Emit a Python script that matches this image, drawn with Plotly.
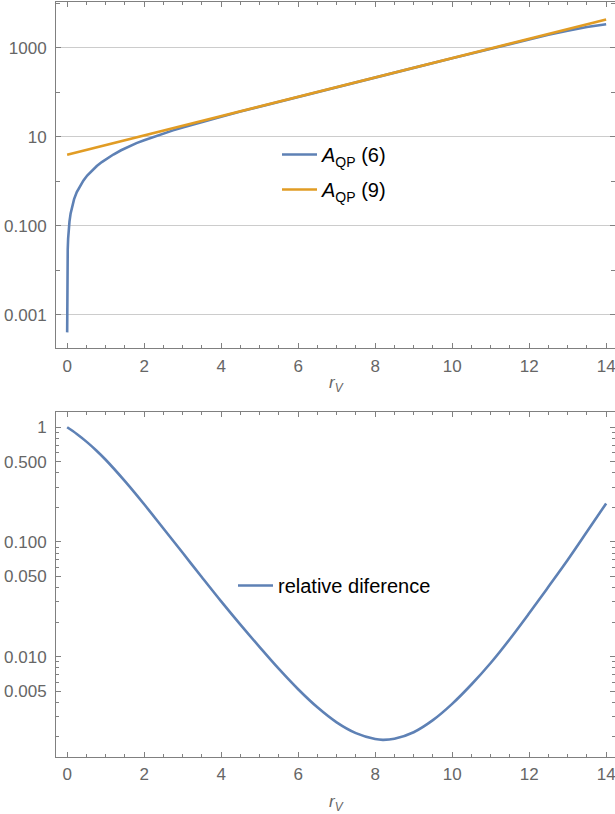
import plotly.graph_objects as go

# ---------------- data ----------------
# top panel: A_QP (6)
x_a6 = [0.0002, 0.0005, 0.001, 0.002, 0.004, 0.008, 0.015, 0.025, 0.04, 0.06, 0.09,
        0.13, 0.18, 0.25, 0.33, 0.42, 0.52, 0.64, 0.77, 0.9, 1.05, 1.2, 1.4, 1.6,
        1.8, 2.0, 2.25, 2.5, 2.75, 3.0, 3.5, 4.0, 4.5, 5.0, 5.5, 6.0, 7.0, 8.0,
        9.0, 10.0, 10.5, 11.0, 11.5, 12.0, 12.5, 13.0, 13.5, 14.0]
y_a6 = [0.0004, 0.001, 0.002, 0.004, 0.008, 0.016, 0.030, 0.051, 0.082, 0.124, 0.189,
        0.279, 0.396, 0.569, 0.780, 1.03, 1.34, 1.73, 2.19, 2.69, 3.31, 3.98, 4.96, 6.02,
        7.2, 8.35, 10.0, 11.9, 13.9, 16.2, 21.6, 28.2, 36.7, 47.4, 61.1, 78.7, 129.7, 214.6,
        353, 581, 745, 954, 1217, 1547, 1951, 2430, 2943, 3371]

# top panel: A_QP (9)
x_a9 = [0, 1, 2, 3, 4, 5, 6, 7, 8, 9, 10, 11, 12, 13, 14]
y_a9 = [3.94, 6.50, 10.7, 17.7, 29.1, 48.0, 79.1, 130, 215, 354, 583, 962, 1585, 2612, 4305]

# bottom panel: relative difference
x_rel = [0, 0.25, 0.5, 0.75, 1.0, 1.5, 2.0, 2.5, 3.0, 3.5, 4.0, 4.5, 5.0, 5.5, 6.0,
         6.5, 7.0, 7.5, 8.0, 8.2, 8.5, 9.0, 9.5, 10.0, 10.5, 11.0, 11.5, 12.0, 12.5,
         13.0, 13.5, 14.0]
y_rel = [1.0, 0.875, 0.750, 0.631, 0.521, 0.339, 0.213, 0.131, 0.0804, 0.0492, 0.0303,
         0.0190, 0.0121, 0.00780, 0.00519, 0.00361, 0.00267, 0.00215, 0.00191, 0.00188,
         0.00192, 0.00219, 0.00279, 0.00387, 0.00571, 0.0088, 0.01426, 0.02388, 0.0406,
         0.0695, 0.1225, 0.2168]

# tick labels
x_ticks = [0, 2, 4, 6, 8, 10, 12, 14]
x_grid = [2, 4, 6, 8, 10, 12, 14]
top_yticks = [0.001, 0.1, 10, 1000]
top_yticktext = ["0.001", "0.100", "10", "1000"]
top_yminor = [0.01, 1, 100, 10000]
bot_yticks = [0.005, 0.01, 0.05, 0.1, 0.5, 1]
bot_yticktext = ["0.005", "0.010", "0.050", "0.100", "0.500", "1"]
bot_yminor = [0.002, 0.003, 0.004, 0.006, 0.007, 0.008, 0.009,
              0.02, 0.03, 0.04, 0.06, 0.07, 0.08, 0.09,
              0.2, 0.3, 0.4, 0.6, 0.7, 0.8, 0.9]
x_title = "<i>r</i><sub><i>V</i></sub>"

# ---------------- styling ----------------
W, H = 615, 814
BLUE = "#5E81B5"
ORANGE = "#E19C24"
FRAME = "#808080"
GRID = "#cccccc"
FAM = "Liberation Sans, Arial, sans-serif"
TICKFONT = dict(family=FAM, size=17, color="#666666")
LEGFONT = dict(family=FAM, size=20, color="#000000")

xdom = [56 / W, 1.0]
top_dom = [1 - 348.3 / H, 1 - 1.5 / H]
bot_dom = [1 - 756.7 / H, 1 - 411.7 / H]
xrange = [-0.29, 14.23]

fig = go.Figure()

fig.add_trace(go.Scatter(x=x_a6, y=y_a6, mode="lines", name="<i>A</i><sub>QP</sub> (6)",
                         line=dict(color=BLUE, width=2.6), xaxis="x", yaxis="y",
                         legend="legend", legendgroup="a6"))
fig.add_trace(go.Scatter(x=x_a9, y=y_a9, mode="lines", name="<i>A</i><sub>QP</sub> (9)",
                         line=dict(color=ORANGE, width=2.6), xaxis="x", yaxis="y",
                         legend="legend", legendgroup="a9"))
fig.add_trace(go.Scatter(x=x_rel, y=y_rel, mode="lines", name="relative diference",
                         line=dict(color=BLUE, width=2.6, shape="spline", smoothing=1.0),
                         xaxis="x2", yaxis="y2", legend="legend2"))

common_x = dict(
    range=xrange, tickmode="array", tickvals=x_ticks, ticks="inside", ticklen=5,
    tickcolor=FRAME, tickwidth=1, showline=True, linecolor=FRAME, linewidth=1,
    mirror="ticks", showgrid=False, zeroline=False, tickfont=TICKFONT,
    ticklabelstandoff=2, automargin=False, ticklabeloverflow="allow",
    minor=dict(dtick=0.5, tick0=0, ticks="inside", ticklen=3, tickcolor=FRAME, showgrid=False),
)

fig.update_layout(
    width=W, height=H,
    margin=dict(l=0, r=0, t=0, b=0, autoexpand=False),
    paper_bgcolor="white", plot_bgcolor="white",
    showlegend=True,
    xaxis=dict(domain=xdom, anchor="y", **common_x),
    yaxis=dict(domain=top_dom, anchor="x", type="log", range=[-3.756, 4.04],
               tickmode="array", tickvals=top_yticks, ticktext=top_yticktext,
               ticks="inside", ticklen=5, tickcolor=FRAME, showline=True,
               linecolor=FRAME, mirror="ticks", showgrid=True, gridcolor=GRID,
               gridwidth=1, zeroline=False, tickfont=TICKFONT, ticklabelstandoff=5,
               automargin=False, ticklabeloverflow="allow",
               minor=dict(tickmode="array", tickvals=top_yminor, ticks="inside",
                          ticklen=4, tickcolor=FRAME, showgrid=False)),
    xaxis3=dict(overlaying="x", anchor="y", range=xrange, tickmode="array",
                tickvals=x_grid, showticklabels=False, ticks="", showline=False,
                showgrid=True, gridcolor=GRID, gridwidth=1, zeroline=False,
                automargin=False),
    xaxis2=dict(domain=xdom, anchor="y2", **common_x),
    yaxis2=dict(domain=bot_dom, anchor="x2", type="log", range=[-2.873, 0.136],
                tickmode="array", tickvals=bot_yticks, ticktext=bot_yticktext,
                ticks="inside", ticklen=5, tickcolor=FRAME, showline=True,
                linecolor=FRAME, mirror="ticks", showgrid=False, zeroline=False,
                tickfont=TICKFONT, ticklabelstandoff=5, automargin=False,
                ticklabeloverflow="allow",
                minor=dict(tickmode="array", tickvals=bot_yminor, ticks="inside",
                           ticklen=3, tickcolor=FRAME, showgrid=False)),
    legend=dict(x=277 / W, y=1 - 135 / H, xanchor="left", yanchor="top",
                bgcolor="rgba(0,0,0,0)", font=LEGFONT, tracegroupgap=6,
                traceorder="grouped", itemwidth=35),
    legend2=dict(x=233 / W, y=1 - 566 / H, xanchor="left", yanchor="top",
                 bgcolor="rgba(0,0,0,0)", font=LEGFONT, itemwidth=35),
    annotations=[
        dict(text=x_title, xref="paper", yref="paper", x=336 / W, y=1 - 384 / H,
             xanchor="center", yanchor="middle", showarrow=False,
             font=dict(family=FAM, size=17, color="#666666")),
        dict(text=x_title, xref="paper", yref="paper", x=336 / W, y=1 - 803 / H,
             xanchor="center", yanchor="middle", showarrow=False,
             font=dict(family=FAM, size=17, color="#666666")),
    ],
)

fig.write_html("out.html", config={"displayModeBar": False},
               post_script="document.body.style.margin='0';document.body.style.overflow='hidden';")
